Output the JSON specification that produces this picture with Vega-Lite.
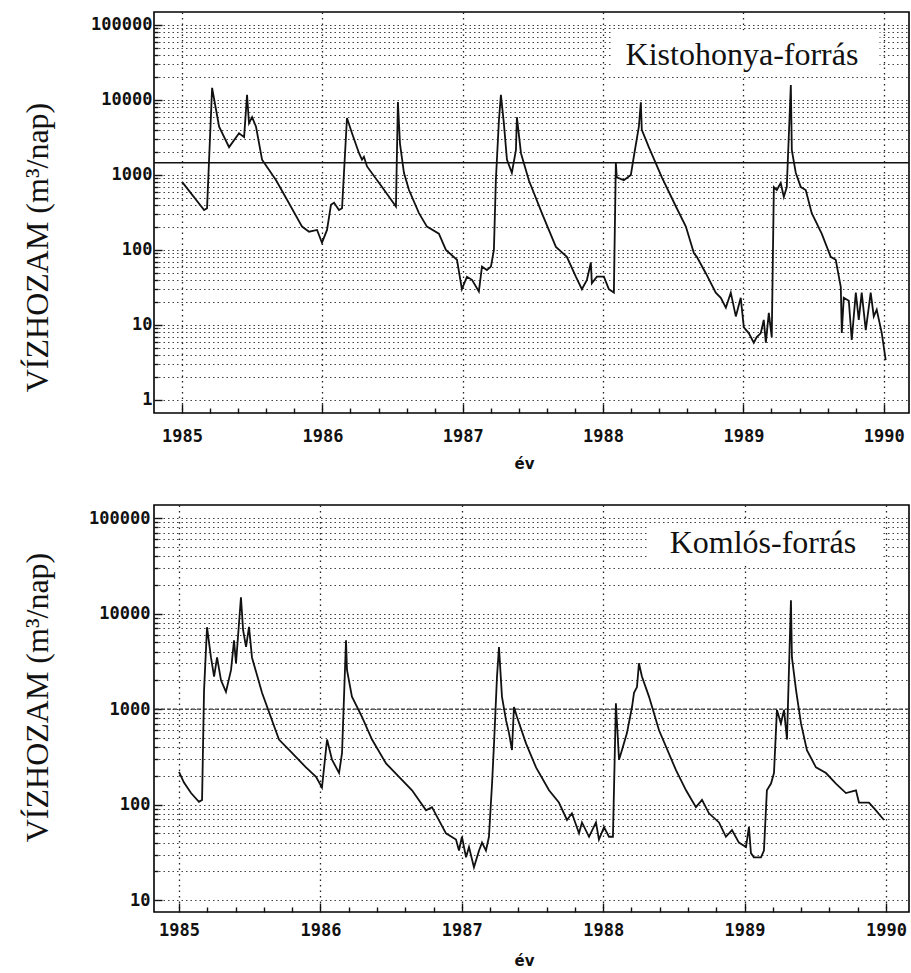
{
  "$schema": "https://vega.github.io/schema/vega-lite/v6.json",
  "background": "white",
  "padding": {"left": 20, "top": 11, "right": 0, "bottom": 0},
  "bounds": "flush",
  "spacing": 92,
  "datasets": {
    "kis": [
      {"year": 1985.0, "q": 810}, {"year": 1985.157, "q": 340}, {"year": 1985.178, "q": 360}, {"year": 1985.214, "q": 14500},
      {"year": 1985.264, "q": 4400}, {"year": 1985.335, "q": 2350}, {"year": 1985.406, "q": 3600}, {"year": 1985.442, "q": 3200},
      {"year": 1985.463, "q": 11700}, {"year": 1985.477, "q": 4900}, {"year": 1985.499, "q": 5900}, {"year": 1985.527, "q": 4400},
      {"year": 1985.57, "q": 1600}, {"year": 1985.67, "q": 850}, {"year": 1985.762, "q": 420}, {"year": 1985.855, "q": 205},
      {"year": 1985.905, "q": 175}, {"year": 1985.962, "q": 185}, {"year": 1985.997, "q": 125}, {"year": 1986.033, "q": 185},
      {"year": 1986.061, "q": 400}, {"year": 1986.083, "q": 425}, {"year": 1986.118, "q": 340}, {"year": 1986.14, "q": 360},
      {"year": 1986.175, "q": 5750}, {"year": 1986.211, "q": 3600}, {"year": 1986.261, "q": 1950}, {"year": 1986.282, "q": 1600},
      {"year": 1986.296, "q": 1750}, {"year": 1986.318, "q": 1300}, {"year": 1986.425, "q": 690}, {"year": 1986.524, "q": 380},
      {"year": 1986.538, "q": 9400}, {"year": 1986.553, "q": 2600}, {"year": 1986.581, "q": 1070}, {"year": 1986.617, "q": 630},
      {"year": 1986.688, "q": 310}, {"year": 1986.745, "q": 205}, {"year": 1986.83, "q": 165}, {"year": 1986.88, "q": 100},
      {"year": 1986.959, "q": 74}, {"year": 1986.994, "q": 30}, {"year": 1987.03, "q": 44}, {"year": 1987.066, "q": 40},
      {"year": 1987.115, "q": 28}, {"year": 1987.137, "q": 60}, {"year": 1987.172, "q": 54}, {"year": 1987.201, "q": 60},
      {"year": 1987.222, "q": 100}, {"year": 1987.236, "q": 850}, {"year": 1987.258, "q": 5400}, {"year": 1987.272, "q": 11700},
      {"year": 1987.293, "q": 4900}, {"year": 1987.315, "q": 1600}, {"year": 1987.35, "q": 1070}, {"year": 1987.379, "q": 2150},
      {"year": 1987.386, "q": 5900}, {"year": 1987.415, "q": 1950}, {"year": 1987.471, "q": 850}, {"year": 1987.564, "q": 310},
      {"year": 1987.664, "q": 110}, {"year": 1987.742, "q": 81}, {"year": 1987.806, "q": 44}, {"year": 1987.849, "q": 30},
      {"year": 1987.885, "q": 40}, {"year": 1987.913, "q": 68}, {"year": 1987.92, "q": 36}, {"year": 1987.956, "q": 44},
      {"year": 1988.006, "q": 44}, {"year": 1988.041, "q": 30}, {"year": 1988.077, "q": 27}, {"year": 1988.091, "q": 1450},
      {"year": 1988.098, "q": 930}, {"year": 1988.148, "q": 850}, {"year": 1988.198, "q": 1000}, {"year": 1988.219, "q": 1750},
      {"year": 1988.255, "q": 4400}, {"year": 1988.269, "q": 9300}, {"year": 1988.276, "q": 4000}, {"year": 1988.326, "q": 2350},
      {"year": 1988.419, "q": 930}, {"year": 1988.519, "q": 380}, {"year": 1988.59, "q": 205}, {"year": 1988.647, "q": 91},
      {"year": 1988.668, "q": 81}, {"year": 1988.732, "q": 49}, {"year": 1988.803, "q": 27}, {"year": 1988.839, "q": 23},
      {"year": 1988.875, "q": 17}, {"year": 1988.91, "q": 27}, {"year": 1988.946, "q": 13}, {"year": 1988.981, "q": 23},
      {"year": 1989.003, "q": 9.3}, {"year": 1989.038, "q": 7.8}, {"year": 1989.074, "q": 5.8}, {"year": 1989.095, "q": 6.9},
      {"year": 1989.124, "q": 7.8}, {"year": 1989.145, "q": 11.7}, {"year": 1989.16, "q": 5.8}, {"year": 1989.181, "q": 14.5},
      {"year": 1989.202, "q": 6.9}, {"year": 1989.217, "q": 690}, {"year": 1989.238, "q": 630}, {"year": 1989.266, "q": 780},
      {"year": 1989.288, "q": 510}, {"year": 1989.309, "q": 690}, {"year": 1989.338, "q": 15800}, {"year": 1989.345, "q": 2150},
      {"year": 1989.373, "q": 1070}, {"year": 1989.409, "q": 690}, {"year": 1989.444, "q": 630}, {"year": 1989.487, "q": 310},
      {"year": 1989.558, "q": 165}, {"year": 1989.622, "q": 81}, {"year": 1989.658, "q": 74}, {"year": 1989.694, "q": 32},
      {"year": 1989.701, "q": 7.8}, {"year": 1989.715, "q": 23}, {"year": 1989.751, "q": 21}, {"year": 1989.772, "q": 6.3},
      {"year": 1989.801, "q": 27}, {"year": 1989.822, "q": 11.7}, {"year": 1989.843, "q": 27}, {"year": 1989.872, "q": 8.5},
      {"year": 1989.907, "q": 27}, {"year": 1989.929, "q": 13}, {"year": 1989.95, "q": 16}, {"year": 1989.986, "q": 7.8},
      {"year": 1990.014, "q": 3.4}
    ],
    "kom": [
      {"year": 1985.0, "q": 220}, {"year": 1985.035, "q": 170}, {"year": 1985.085, "q": 132}, {"year": 1985.141, "q": 107},
      {"year": 1985.163, "q": 112}, {"year": 1985.177, "q": 1580}, {"year": 1985.198, "q": 7200}, {"year": 1985.226, "q": 3470},
      {"year": 1985.248, "q": 2190}, {"year": 1985.269, "q": 3470}, {"year": 1985.297, "q": 2000}, {"year": 1985.332, "q": 1510},
      {"year": 1985.368, "q": 2570}, {"year": 1985.389, "q": 5250}, {"year": 1985.403, "q": 3020}, {"year": 1985.438, "q": 14800},
      {"year": 1985.453, "q": 6760}, {"year": 1985.474, "q": 4470}, {"year": 1985.495, "q": 7240}, {"year": 1985.516, "q": 3470},
      {"year": 1985.587, "q": 1480}, {"year": 1985.707, "q": 480}, {"year": 1985.799, "q": 347}, {"year": 1985.898, "q": 245},
      {"year": 1985.969, "q": 195}, {"year": 1986.011, "q": 151}, {"year": 1986.047, "q": 480}, {"year": 1986.082, "q": 295},
      {"year": 1986.132, "q": 214}, {"year": 1986.153, "q": 347}, {"year": 1986.181, "q": 5250}, {"year": 1986.188, "q": 2570},
      {"year": 1986.223, "q": 1350}, {"year": 1986.294, "q": 830}, {"year": 1986.365, "q": 480}, {"year": 1986.464, "q": 270},
      {"year": 1986.556, "q": 195}, {"year": 1986.648, "q": 141}, {"year": 1986.747, "q": 87}, {"year": 1986.789, "q": 94},
      {"year": 1986.888, "q": 50}, {"year": 1986.959, "q": 43}, {"year": 1986.98, "q": 33}, {"year": 1987.001, "q": 46},
      {"year": 1987.03, "q": 28}, {"year": 1987.051, "q": 36}, {"year": 1987.086, "q": 22}, {"year": 1987.122, "q": 33},
      {"year": 1987.143, "q": 40}, {"year": 1987.171, "q": 33}, {"year": 1987.192, "q": 46}, {"year": 1987.214, "q": 166},
      {"year": 1987.228, "q": 437}, {"year": 1987.249, "q": 2190}, {"year": 1987.263, "q": 4470}, {"year": 1987.284, "q": 1350},
      {"year": 1987.313, "q": 760}, {"year": 1987.334, "q": 560}, {"year": 1987.355, "q": 372}, {"year": 1987.369, "q": 1050},
      {"year": 1987.39, "q": 830}, {"year": 1987.454, "q": 437}, {"year": 1987.525, "q": 245}, {"year": 1987.617, "q": 141},
      {"year": 1987.687, "q": 105}, {"year": 1987.744, "q": 69}, {"year": 1987.779, "q": 81}, {"year": 1987.829, "q": 50},
      {"year": 1987.85, "q": 65}, {"year": 1987.9, "q": 46}, {"year": 1987.949, "q": 65}, {"year": 1987.97, "q": 43},
      {"year": 1988.006, "q": 58}, {"year": 1988.041, "q": 46}, {"year": 1988.069, "q": 46}, {"year": 1988.09, "q": 1150},
      {"year": 1988.112, "q": 295}, {"year": 1988.133, "q": 372}, {"year": 1988.168, "q": 560}, {"year": 1988.204, "q": 1050},
      {"year": 1988.218, "q": 1480}, {"year": 1988.239, "q": 1700}, {"year": 1988.253, "q": 3020}, {"year": 1988.274, "q": 2190},
      {"year": 1988.324, "q": 1350}, {"year": 1988.395, "q": 600}, {"year": 1988.515, "q": 229}, {"year": 1988.586, "q": 141},
      {"year": 1988.656, "q": 94}, {"year": 1988.699, "q": 112}, {"year": 1988.748, "q": 81}, {"year": 1988.819, "q": 65},
      {"year": 1988.868, "q": 46}, {"year": 1988.911, "q": 54}, {"year": 1988.96, "q": 40}, {"year": 1989.01, "q": 36},
      {"year": 1989.031, "q": 58}, {"year": 1989.045, "q": 31}, {"year": 1989.066, "q": 28}, {"year": 1989.116, "q": 28},
      {"year": 1989.137, "q": 33}, {"year": 1989.158, "q": 141}, {"year": 1989.187, "q": 166}, {"year": 1989.208, "q": 214},
      {"year": 1989.229, "q": 980}, {"year": 1989.257, "q": 708}, {"year": 1989.279, "q": 980}, {"year": 1989.3, "q": 480},
      {"year": 1989.328, "q": 13800}, {"year": 1989.335, "q": 3470}, {"year": 1989.364, "q": 1580}, {"year": 1989.399, "q": 708},
      {"year": 1989.441, "q": 372}, {"year": 1989.505, "q": 245}, {"year": 1989.576, "q": 214}, {"year": 1989.646, "q": 166},
      {"year": 1989.717, "q": 132}, {"year": 1989.788, "q": 141}, {"year": 1989.809, "q": 105}, {"year": 1989.88, "q": 105},
      {"year": 1989.929, "q": 87}, {"year": 1989.986, "q": 69}
    ]
  },
  "config": {
    "view": {"stroke": "black", "strokeWidth": 1.6},
    "axis": {
      "labelFont": "DejaVu Sans Mono", "labelFontWeight": "bold", "labelFontSize": 17, "labelColor": "#111",
      "titleFont": "Liberation Serif", "titleFontWeight": "normal", "titleColor": "#111",
      "domain": false, "tickColor": "#111", "tickWidth": 1.4, "labelOverlap": false
    }
  },
  "vconcat": [
    {
      "width": 755, "height": 401,
      "layer": [
        {
          "data": {"values": [{}]},
          "mark": {"type": "rule", "color": "#111", "strokeWidth": 1.5},
          "encoding": {"y": {"datum": 1450, "type": "quantitative", "scale": {"type": "log", "domain": [0.67, 149000]}}}
        },
        {
          "data": {"values": [{}]},
          "mark": {"type": "rect", "color": "white"},
          "encoding": {
            "x": {"datum": 1988.06, "type": "quantitative"}, "x2": {"datum": 1989.97},
            "y": {"datum": 85000, "type": "quantitative"}, "y2": {"datum": 22000}
          }
        },
        {
          "data": {"name": "kis"},
          "mark": {"type": "line", "color": "#111", "strokeWidth": 1.8, "strokeJoin": "miter", "clip": true},
          "encoding": {
            "x": {
              "field": "year", "type": "quantitative",
              "scale": {"domain": [1984.8, 1990.18], "nice": false, "zero": false},
              "axis": {
                "orient": "bottom", "title": "év", "titleFont": "DejaVu Sans", "titleFontWeight": "bold", "titleFontSize": 15,
                "titleX": 370, "titleY": 50, "titleBaseline": "middle",
                "values": [1985, 1985.2, 1985.4, 1985.6, 1985.8, 1986, 1986.2, 1986.4, 1986.6, 1986.8, 1987, 1987.2, 1987.4, 1987.6, 1987.8, 1988, 1988.2, 1988.4, 1988.6, 1988.8, 1989, 1989.2, 1989.4, 1989.6, 1989.8, 1990],
                "tickCount": 1000,
                "labelExpr": "datum.value % 1 == 0 ? format(datum.value, 'd') : ''",
                "labelOverlap": false, "labelFlush": false,
                "labelPadding": 32, "labelBaseline": "middle",
                "tickSize": {"condition": {"test": "datum.value % 1 == 0", "value": -9}, "value": -5},
                "grid": true,
                "gridDash": [1.5, 4], "gridColor": "#222", "gridWidth": 1.3,
                "gridOpacity": {"condition": {"test": "datum.value % 1 == 0", "value": 1}, "value": 0}
              }
            },
            "y": {
              "field": "q", "type": "quantitative",
              "scale": {"type": "log", "domain": [0.67, 149000], "nice": false},
              "axis": {
                "title": "VÍZHOZAM  (m³/nap)", "titleFontSize": 32, "titleAngle": -90,
                "titleX": -117, "titleY": 235, "titleAlign": "center", "titleBaseline": "middle",
                "values": [1, 2, 3, 4, 5, 6, 7, 8, 9, 10, 20, 30, 40, 50, 60, 70, 80, 90, 100, 200, 300, 400, 500, 600, 700, 800, 900, 1000, 2000, 3000, 4000, 5000, 6000, 7000, 8000, 9000, 10000, 20000, 30000, 40000, 50000, 60000, 70000, 80000, 90000, 100000],
                "tickCount": 1000,
                "format": "d", "labelOverlap": false,
                "labelExpr": "abs(log(datum.value)/LN10 - round(log(datum.value)/LN10)) < 0.001 ? datum.label : ''",
                "labelPadding": 10,
                "tickSize": {"condition": {"test": "abs(log(datum.value)/LN10 - round(log(datum.value)/LN10)) < 0.001", "value": -8}, "value": -4},
                "grid": true, "gridDash": [1.5, 3], "gridColor": "#222", "gridWidth": 1.2, "gridOpacity": 0.85
              }
            }
          }
        },
        {
          "data": {"values": [{}]},
          "mark": {"type": "text", "text": "Kistohonya-forrás", "font": "Liberation Serif", "fontSize": 32, "color": "#111", "align": "center", "baseline": "alphabetic"},
          "encoding": {
            "x": {"datum": 1988.99, "type": "quantitative"},
            "y": {"datum": 29300, "type": "quantitative"}
          }
        }
      ]
    },
    {
      "width": 755, "height": 407,
      "layer": [
        {
          "data": {"values": [{}]},
          "mark": {"type": "rule", "color": "#333", "strokeWidth": 1.3, "strokeDash": [4, 2]},
          "encoding": {"y": {"datum": 1000, "type": "quantitative", "scale": {"type": "log", "domain": [7.5, 137000]}}}
        },
        {
          "data": {"values": [{}]},
          "mark": {"type": "rect", "color": "white"},
          "encoding": {
            "x": {"datum": 1988.32, "type": "quantitative"}, "x2": {"datum": 1989.97},
            "y": {"datum": 88000, "type": "quantitative"}, "y2": {"datum": 33000}
          }
        },
        {
          "data": {"name": "kom"},
          "mark": {"type": "line", "color": "#111", "strokeWidth": 1.8, "strokeJoin": "miter", "clip": true},
          "encoding": {
            "x": {
              "field": "year", "type": "quantitative",
              "scale": {"domain": [1984.823, 1990.163], "nice": false, "zero": false},
              "axis": {
                "orient": "bottom", "title": "év", "titleFont": "DejaVu Sans", "titleFontWeight": "bold", "titleFontSize": 15,
                "titleX": 370, "titleY": 48, "titleBaseline": "middle",
                "values": [1985, 1985.2, 1985.4, 1985.6, 1985.8, 1986, 1986.2, 1986.4, 1986.6, 1986.8, 1987, 1987.2, 1987.4, 1987.6, 1987.8, 1988, 1988.2, 1988.4, 1988.6, 1988.8, 1989, 1989.2, 1989.4, 1989.6, 1989.8, 1990],
                "tickCount": 1000,
                "labelExpr": "datum.value % 1 == 0 ? format(datum.value, 'd') : ''",
                "labelOverlap": false, "labelFlush": false,
                "labelPadding": 27, "labelBaseline": "middle",
                "tickSize": {"condition": {"test": "datum.value % 1 == 0", "value": -9}, "value": -5},
                "grid": true,
                "gridDash": [1.5, 4], "gridColor": "#222", "gridWidth": 1.3,
                "gridOpacity": {"condition": {"test": "datum.value % 1 == 0", "value": 1}, "value": 0}
              }
            },
            "y": {
              "field": "q", "type": "quantitative",
              "scale": {"type": "log", "domain": [7.5, 137000], "nice": false},
              "axis": {
                "title": "VÍZHOZAM  (m³/nap)", "titleFontSize": 32, "titleAngle": -90,
                "titleX": -117, "titleY": 192, "titleAlign": "center", "titleBaseline": "middle",
                "values": [10, 20, 30, 40, 50, 60, 70, 80, 90, 100, 200, 300, 400, 500, 600, 700, 800, 900, 1000, 2000, 3000, 4000, 5000, 6000, 7000, 8000, 9000, 10000, 20000, 30000, 40000, 50000, 60000, 70000, 80000, 90000, 100000],
                "tickCount": 1000,
                "format": "d", "labelOverlap": false,
                "labelExpr": "abs(log(datum.value)/LN10 - round(log(datum.value)/LN10)) < 0.001 ? datum.label : ''",
                "labelPadding": 12,
                "tickSize": {"condition": {"test": "abs(log(datum.value)/LN10 - round(log(datum.value)/LN10)) < 0.001", "value": -8}, "value": -4},
                "grid": true, "gridDash": [1.5, 3], "gridColor": "#222", "gridWidth": 1.2, "gridOpacity": 0.85
              }
            }
          }
        },
        {
          "data": {"values": [{}]},
          "mark": {"type": "text", "text": "Komlós-forrás", "font": "Liberation Serif", "fontSize": 32, "color": "#111", "align": "center", "baseline": "alphabetic"},
          "encoding": {
            "x": {"datum": 1989.13, "type": "quantitative"},
            "y": {"datum": 43000, "type": "quantitative"}
          }
        }
      ]
    }
  ]
}
